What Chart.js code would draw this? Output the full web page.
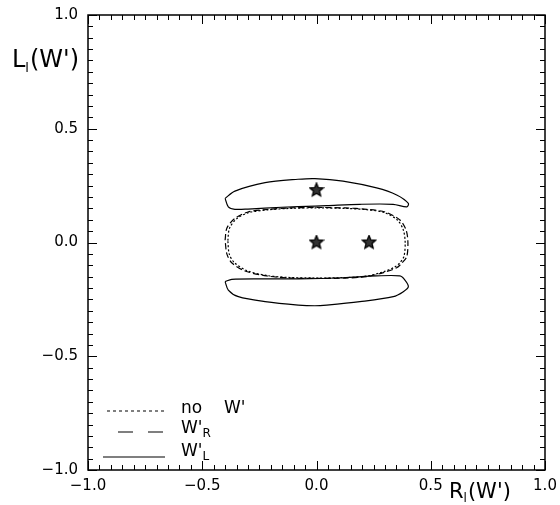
<!DOCTYPE html>
<html>
<head>
<meta charset="utf-8">
<script src="https://cdn.jsdelivr.net/npm/chart.js@4.4.1/dist/chart.umd.min.js"></script>
<style>
  body { margin: 0; background: #fff; }
  canvas { display: block; }
</style>
</head>
<body>
<canvas id="c" width="560" height="505"></canvas>
<script>
// contour, in (R_l, L_l) units
const noWX = [-0.388, -0.381, -0.350, -0.298, -0.218, -0.116, 0.000, 0.125, 0.220, 0.296, 0.355, 0.380, 0.388, 0.383, 0.366, 0.342, 0.295, 0.218, 0.103, 0.000, -0.116, -0.218, -0.306, -0.360, -0.382, -0.388];
const noWY = [0.008, 0.062, 0.104, 0.131, 0.143, 0.150, 0.152, 0.150, 0.144, 0.132, 0.098, 0.055, 0.002, -0.060, -0.088, -0.108, -0.128, -0.148, -0.155, -0.156, -0.154, -0.145, -0.123, -0.088, -0.050, 0.008];

const wrX = [-0.400, -0.392, -0.357, -0.300, -0.218, -0.116, 0.001, 0.125, 0.220, 0.300, 0.365, 0.392, 0.400, 0.395, 0.374, 0.351, 0.300, 0.220, 0.103, 0.001, -0.116, -0.218, -0.313, -0.370, -0.392, -0.400];
const wrY = [0.011, 0.064, 0.106, 0.134, 0.145, 0.152, 0.154, 0.152, 0.146, 0.134, 0.099, 0.055, 0.002, -0.062, -0.090, -0.111, -0.130, -0.150, -0.157, -0.158, -0.156, -0.147, -0.125, -0.090, -0.051, 0.011];

const wlUpX = [-0.400, -0.357, -0.225, -0.081, -0.007, 0.116, 0.263, 0.351, 0.402, 0.396, 0.335, 0.190, 0.045, -0.007, -0.152, -0.300, -0.357, -0.386, -0.400];
const wlUpY = [0.194, 0.226, 0.263, 0.278, 0.281, 0.270, 0.240, 0.209, 0.172, 0.157, 0.168, 0.168, 0.162, 0.160, 0.155, 0.147, 0.146, 0.157, 0.194];

const wlDnX = [-0.400, -0.371, -0.225, -0.080, 0.117, 0.263, 0.365, 0.387, 0.402, 0.380, 0.336, 0.190, 0.045, -0.007, -0.080, -0.225, -0.342, -0.386, -0.400];
const wlDnY = [-0.172, -0.162, -0.160, -0.160, -0.155, -0.147, -0.147, -0.165, -0.194, -0.216, -0.238, -0.260, -0.275, -0.278, -0.275, -0.260, -0.238, -0.209, -0.172];

const starX = [0.0, 0.0, 0.23];
const starY = [0.23, 0.0, 0.0];

const axisTicks = [-1.0, -0.5, 0.0, 0.5, 1.0];

function pts(xs, ys) {
    return xs.map((x, i) => ({ x: x, y: ys[i] }));
}

// filled five point star used as point style
function makeStar(size) {
    const cv = document.createElement('canvas');
    cv.width = size; cv.height = size;
    const g = cv.getContext('2d');
    const c = size / 2, ro = size / 2 - 1, ri = ro * 0.45;
    g.beginPath();
    for (let i = 0; i < 10; i++) {
        const r = i % 2 ? ri : ro;
        const a = -Math.PI / 2 + i * Math.PI / 5;
        g.lineTo(c + r * Math.cos(a), c + r * Math.sin(a));
    }
    g.closePath();
    g.fillStyle = '#333';
    g.fill();
    g.lineWidth = 1.3;
    g.strokeStyle = '#000';
    g.stroke();
    return cv;
}

function line(ds, label, dash) {
    return {
        label: label,
        data: ds,
        showLine: true,
        borderColor: '#000',
        borderWidth: 1.2,
        borderDash: dash,
        pointRadius: 0,
        tension: 0.3,
        fill: false
    };
}

const frame = {
    id: 'frame',
    afterDraw(chart) {
        const ctx = chart.ctx;
        const a = chart.chartArea;
        const xs = chart.scales.x, ys = chart.scales.y;
        ctx.save();
        ctx.strokeStyle = '#000';
        ctx.lineWidth = 1.5;
        ctx.strokeRect(a.left, a.top, a.right - a.left, a.bottom - a.top);
        ctx.lineWidth = 1;
        for (let k = 0; k <= 40; k++) {
            const v = -1 + k * 0.05;
            const len = (k % 10 === 0) ? 9 : 5;
            const px = Math.round(xs.getPixelForValue(v)) + 0.5;
            const py = Math.round(ys.getPixelForValue(v)) + 0.5;
            ctx.beginPath();
            ctx.moveTo(px, a.bottom); ctx.lineTo(px, a.bottom - len);
            ctx.moveTo(px, a.top); ctx.lineTo(px, a.top + len);
            ctx.moveTo(a.left, py); ctx.lineTo(a.left + len, py);
            ctx.moveTo(a.right, py); ctx.lineTo(a.right - len, py);
            ctx.stroke();
        }

        // axis titles with subscripts
        ctx.fillStyle = '#000';
        ctx.textBaseline = 'alphabetic';
        function sub(x, y, big, small, rest, bs, ss) {
            ctx.font = bs + 'px "DejaVu Sans"';
            ctx.fillText(big, x, y);
            x += ctx.measureText(big).width;
            ctx.font = ss + 'px "DejaVu Sans"';
            ctx.fillText(small, x, y + ss * 0.35);
            x += ctx.measureText(small).width + 1;
            ctx.font = bs + 'px "DejaVu Sans"';
            ctx.fillText(rest, x, y);
        }
        sub(12, 67, 'L', 'l', "(W')", 24, 13);
        sub(449, 498, 'R', 'l', "(W')", 21, 12);

        // legend
        ctx.lineWidth = 1.2;
        const rows = [
            { y: 411, dash: [3, 3], x0: 107, x1: 165 },
            { y: 432, dash: [15, 15], x0: 118, x1: 165 },
            { y: 457, dash: [], x0: 103, x1: 165 }
        ];
        rows.forEach(r => {
            ctx.setLineDash(r.dash);
            ctx.beginPath();
            ctx.moveTo(r.x0, r.y); ctx.lineTo(r.x1, r.y);
            ctx.stroke();
        });
        ctx.setLineDash([]);
        ctx.font = '17px "DejaVu Sans"';
        ctx.fillText('no', 181, 413);
        ctx.fillText("W'", 224, 413);
        sub(181, 433, "W'", 'R', '', 17, 12);
        sub(181, 456, "W'", 'L', '', 17, 12);
        ctx.restore();
    }
};

const fmt = v => (v < 0 ? '\u2212' : '') + Math.abs(v).toFixed(1);

new Chart(document.getElementById('c'), {
    type: 'scatter',
    data: {
        datasets: [
            line(pts(noWX, noWY), 'no W\'', [2, 2]),
            line(pts(wrX, wrY), 'W\'R', [6, 3]),
            line(pts(wlUpX, wlUpY), 'W\'L', []),
            line(pts(wlDnX, wlDnY), 'W\'L', []),
            {
                label: 'best',
                data: pts(starX, starY),
                pointStyle: makeStar(16),
                pointRadius: 8,
                showLine: false
            }
        ]
    },
    options: {
        responsive: false,
        animation: false,
        layout: { padding: { left: 0, right: 15, top: 15, bottom: 0 } },
        plugins: { legend: { display: false }, tooltip: { enabled: false } },
        scales: {
            x: {
                min: -1, max: 1,
                afterFit: s => { s.height = 35; s.paddingLeft = 0; s.paddingRight = 0; },
                afterBuildTicks: s => { s.ticks = axisTicks.map(v => ({ value: v })); },
                grid: { display: false, drawTicks: false },
                border: { display: false },
                ticks: {
                    padding: 7,
                    color: '#000',
                    maxRotation: 0,
                    font: { family: 'DejaVu Sans', size: 15 },
                    callback: v => fmt(v)
                }
            },
            y: {
                min: -1, max: 1,
                afterFit: s => { s.width = 88; s.paddingTop = 0; s.paddingBottom = 0; },
                afterBuildTicks: s => { s.ticks = axisTicks.map(v => ({ value: v })); },
                grid: { display: false, drawTicks: false },
                border: { display: false },
                ticks: {
                    padding: 10,
                    color: '#000',
                    font: { family: 'DejaVu Sans', size: 15 },
                    callback: v => fmt(v)
                }
            }
        }
    },
    plugins: [frame]
});
</script>
</body>
</html>
